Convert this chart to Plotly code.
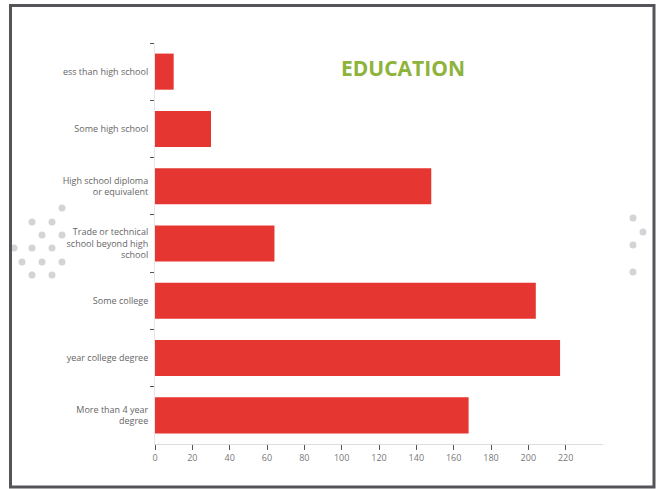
import plotly.graph_objects as go

categories = [
    "ess than high school",
    "Some high school",
    "High school diploma<br>or equivalent",
    "Trade or technical<br>school beyond high<br>school",
    "Some college",
    "year college degree",
    "More than 4 year<br>degree",
]
values = [10, 30, 148, 64, 204, 217, 168]
x_ticks = [0, 20, 40, 60, 80, 100, 120, 140, 160, 180, 200, 220]
title_text = "EDUCATION"

W, H = 657, 489
L, R, T, B = 155, 54, 43, 45
PW, PH = W - L - R, H - T - B


def px(x):
    return (x - L) / PW


def py(y):
    return (H - B - y) / PH


fig = go.Figure(
    go.Bar(
        x=values,
        y=categories,
        orientation="h",
        marker=dict(color="#E53632", line=dict(width=0)),
        width=0.63,
    )
)

shapes = []
# frame
shapes.append(dict(type="rect", xref="paper", yref="paper",
                   x0=px(10.5), x1=px(654), y0=py(5.5), y1=py(487),
                   line=dict(color="#555559", width=3), fillcolor="rgba(0,0,0,0)", layer="above"))
# decorative dots
dots = [(62, 208), (32, 222), (52, 222), (42, 235), (62, 235), (32, 248), (52, 248),
        (22, 262), (42, 262), (62, 262), (32, 275), (52, 275), (14, 248),
        (633, 218), (643, 232), (633, 245), (633, 272)]
for (cx, cy) in dots:
    r = 3.5
    shapes.append(dict(type="circle", xref="paper", yref="paper",
                       x0=px(cx - r), x1=px(cx + r), y0=py(cy + r), y1=py(cy - r),
                       fillcolor="#d4d4d6", line=dict(width=0), layer="below"))

fig.update_layout(
    width=W, height=H,
    margin=dict(l=L, r=R, t=T, b=B),
    paper_bgcolor="white",
    plot_bgcolor="white",
    showlegend=False,
    shapes=shapes,
    font=dict(family="Open Sans, sans-serif", color="#666666", size=9),
    annotations=[dict(text="<b>" + title_text + "</b>", x=px(403), y=py(68),
                      xref="paper", yref="paper", showarrow=False,
                      xanchor="center", yanchor="middle",
                      font=dict(family="Open Sans, sans-serif", size=21, color="#8DB33A"))],
    bargap=0.37,
)
fig.update_xaxes(
    range=[0, 240], tickvals=x_ticks, showgrid=False, zeroline=False,
    showline=True, linecolor="#dcdde0", linewidth=1,
    ticks="outside", ticklen=5, tickcolor="#555555", tickwidth=1,
    tickfont=dict(size=9, color="#777777"),
)
fig.update_yaxes(
    autorange="reversed", showgrid=False, zeroline=False,
    showline=True, linecolor="#e6e6e8", linewidth=1,
    ticks="outside", tickson="boundaries", ticklen=4, tickcolor="#555555", tickwidth=1,
    tickfont=dict(size=9, color="#666666"), ticklabelstandoff=4,
)

fig.write_html("out.html")
